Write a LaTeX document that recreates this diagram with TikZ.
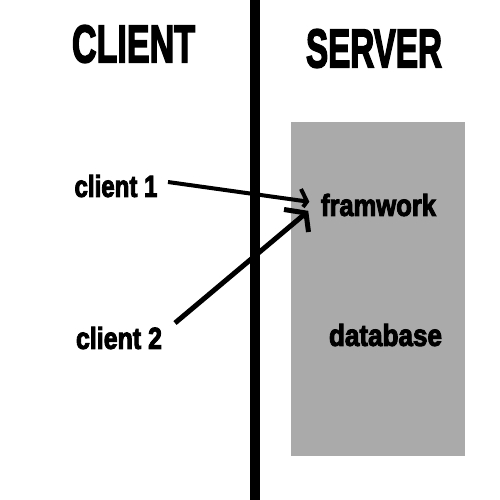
\documentclass[tikz,border=0pt]{standalone}
\usepackage{fontspec}
\newfontfamily\imp{Liberation Sans}[UprightFont=* Bold, FakeBold=3.5]
\usepackage{graphicx}
\definecolor{boxgray}{HTML}{AAAAAA}
\tikzset{
  lbl/.style={inner sep=0pt, outer sep=0pt, anchor=center},
  conn/.style={line width=4pt, line cap=butt, line join=miter},
  conntwo/.style={line width=5pt, line cap=butt, line join=miter},
}
\newcommand{\fit}[3]{\resizebox{#1pt}{#2pt}{\imp #3}}
\begin{document}
\begin{tikzpicture}[x=1pt,y=-1pt]
\useasboundingbox (0,0) rectangle (500,500);
\fill[white] (0,0) rectangle (500,500);
% server box
\fill[boxgray] (291,122) rectangle (465,456);
% divider
\fill[black] (250,0) rectangle (260,500);
% headings
\node[lbl] (client) at (133.5,44) {\fit{123}{37}{CLIENT}};
\node[lbl] (server) at (374,48.5) {\fit{136}{38}{SERVER}};
% labels
\node[lbl] (c1) at (116,186) {\fit{83}{22}{client 1}};
\node[lbl] (c2) at (119,338) {\fit{86}{22}{client 2}};
\node[lbl] (fw) at (378.5,205) {\fit{115}{22}{framwork}};
\node[lbl] (db) at (385.5,335) {\fit{113}{22}{database}};
% arrow end points
\coordinate (s1) at (168,182);
\coordinate (t1) at (307,201.5);
\coordinate (s2) at (175,323);
\coordinate (t2) at (306,213);
\draw[conn] (s1) -- (t1);
\draw[conn] (301,189) -- (t1) -- (303,207);
\draw[conntwo] (s2) -- (t2);
\draw[conntwo] (284,209.5) -- (t2) -- (308.5,232);
\end{tikzpicture}
\end{document}
